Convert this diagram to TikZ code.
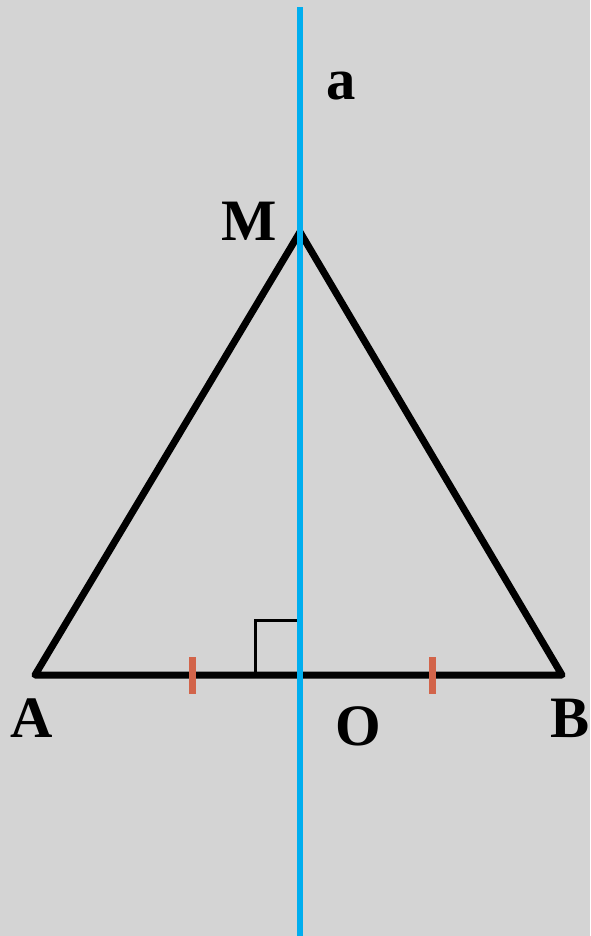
\documentclass[tikz,border=0pt]{standalone}
\usepackage{fontspec}
\setmainfont{Liberation Serif}
\usetikzlibrary{positioning}
\definecolor{paper}{RGB}{212,212,212}
\definecolor{axisblue}{RGB}{0,174,239}
\definecolor{tickred}{RGB}{210,100,74}

\begin{document}
\begin{tikzpicture}[x=0.75pt,y=-0.75pt,
  side/.style={line width=5.25pt, line join=round, line cap=round},
  lbl/.style={font=\fontsize{44}{50}\selectfont\bfseries, inner sep=0pt},
  tickmark/.style={tickred, line width=5.25pt}]
\fill[paper] (0,0) rectangle (590,936);
\useasboundingbox (0,0) rectangle (590,936);
% points
\coordinate (A) at (35,675);
\coordinate (B) at (562,675);
\coordinate (M) at (300,232);
\coordinate (O) at (300,675);
\coordinate (top) at (300,7);
\coordinate (bot) at (300,936);
% triangle and right angle
\draw[side] (A) -- (M) -- (B) -- cycle;
\draw[line width=2.25pt] (255,675) -- (255,620) -- (O |- 0,620);
\draw[tickmark] (192,657) -- (192,694);
\draw[tickmark] (432,657) -- (432,694);
% axis a
\draw[axisblue, line width=4.5pt] (top) -- (bot);
% labels
\node[lbl] (labM) at (249,221) {M};
\node[lbl] (laba) at (341,86) {a};
\node[lbl] (labA) at (32,718) {A};
\node[lbl] (labO) at (358,726) {O};
\node[lbl] (labB) at (570,718) {B};
\end{tikzpicture}
\end{document}
